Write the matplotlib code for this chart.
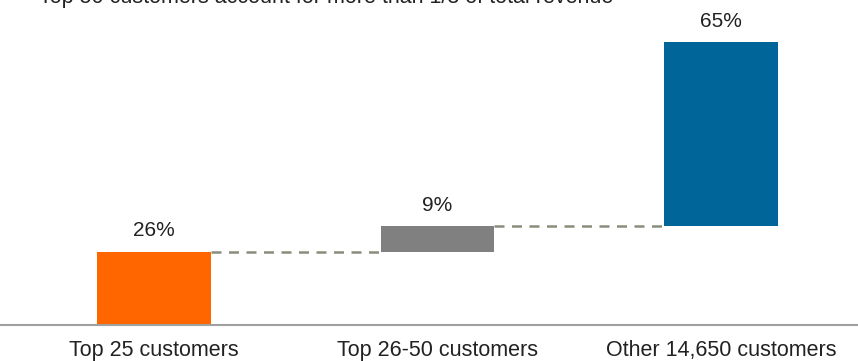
import matplotlib.pyplot as plt

plt.rcParams['font.family'] = ['Liberation Sans', 'DejaVu Sans']

# Data
categories = ['Top 25 customers', 'Top 26-50 customers', 'Other 14,650 customers']
shares = [26, 9, 65]
colors = ['#FF6600', '#808080', '#006699']
title = 'Top 50 customers account for more than 1/3 of total revenue'

# waterfall bases
bases = []
running = 0
for s in shares:
    bases.append(running)
    running += s

fig = plt.figure(figsize=(8.58, 3.61), dpi=100)
ax = fig.add_axes([0, 0.0997, 1, 0.9003])

x = list(range(len(categories)))
width = 0.40
ax.bar(x, shares, bottom=bases, width=width, color=colors, zorder=2)

# value labels
for xi, b, s in zip(x, bases, shares):
    ax.annotate(f'{s}%', (xi, b + s), xytext=(0, 8), textcoords='offset points',
                ha='center', va='bottom', fontsize=15, color='#222222')

# connectors
for i in range(len(shares) - 1):
    level = bases[i] + shares[i]
    ax.plot([x[i] + width / 2, x[i + 1] - width / 2], [level, level],
            linestyle=(0, (4, 3)), color='#8c8c7c', linewidth=1.8, zorder=1)

ax.set_xlim(-0.543, 2.483)
ax.set_ylim(0, 115)
ax.set_yticks([])
ax.set_xticks(x)
ax.set_xticklabels(categories, fontsize=15.5, color='#222222')
ax.tick_params(axis='x', length=0, pad=11)
for side in ['top', 'right', 'left']:
    ax.spines[side].set_visible(False)
ax.spines['bottom'].set_color('#a0a0a0')
ax.spines['bottom'].set_linewidth(1.5)

# title sits mostly above the canvas, as in the source image
fig.text(0.045, 1 - 3 / 361, title, fontsize=15.5, color='#222222',
         ha='left', va='baseline')

fig.savefig('out.png', dpi=100)
